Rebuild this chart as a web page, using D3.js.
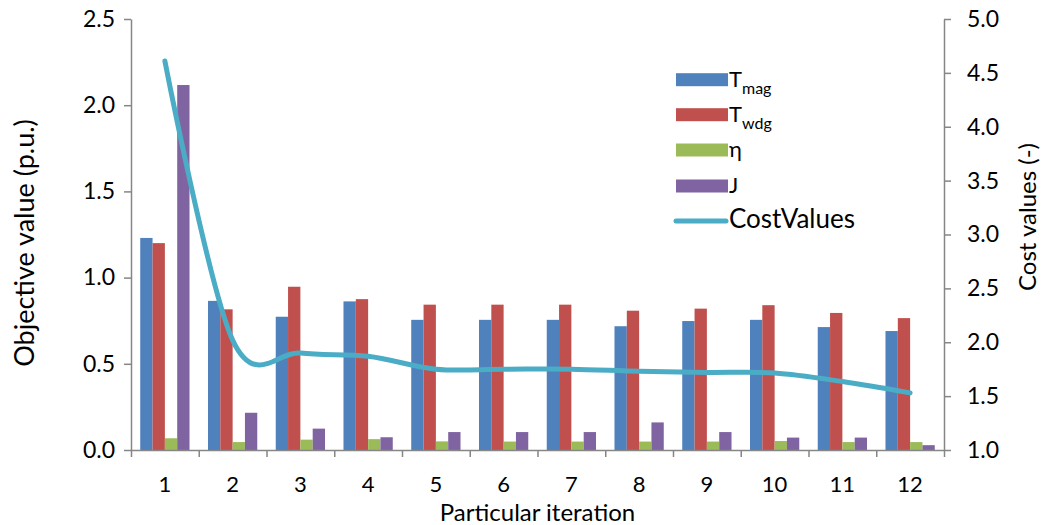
<!DOCTYPE html>
<html>
<head>
<meta charset="utf-8">
<script src="https://cdn.jsdelivr.net/npm/d3@7"></script>
<style>
  html, body { margin: 0; padding: 0; background: #fff; }
  svg { display: block; }
  text { font-family: Lato, "Open Sans", sans-serif; fill: #000; }
</style>
</head>
<body>
<svg id="chart" width="1049" height="525"></svg>
<script>
// ---- data ----
const categories = ["1","2","3","4","5","6","7","8","9","10","11","12"];
const seriesNames = ["Tmag","Twdg","eta","J"];
const Tmag = [1.23, 0.865, 0.773, 0.862, 0.755, 0.755, 0.755, 0.718, 0.748, 0.755, 0.713, 0.69];
const Twdg = [1.20, 0.816, 0.947, 0.875, 0.843, 0.843, 0.843, 0.808, 0.82, 0.84, 0.795, 0.765];
const eta  = [0.068, 0.046, 0.06, 0.063, 0.05, 0.049, 0.049, 0.049, 0.049, 0.052, 0.046, 0.046];
const J    = [2.117, 0.216, 0.124, 0.074, 0.104, 0.104, 0.104, 0.16, 0.104, 0.072, 0.072, 0.028];
const costValues = [4.61, 2.02, 1.90, 1.87, 1.75, 1.75, 1.75, 1.73, 1.72, 1.715, 1.635, 1.53];
const leftTicks = [0, 0.5, 1.0, 1.5, 2.0, 2.5];
const rightTicks = [1.0, 1.5, 2.0, 2.5, 3.0, 3.5, 4.0, 4.5, 5.0];
const xTitle = "Particular iteration";
const yLeftTitle = "Objective value (p.u.)";
const yRightTitle = "Cost values (-)";

const seriesData = { Tmag, Twdg, eta, J };
const colors = { Tmag: "#4F81BD", Twdg: "#C0504D", eta: "#9BBB59", J: "#8064A2", cost: "#4BACC6" };

// ---- layout ----
const plotLeft = 131, plotRight = 944, plotTop = 19, plotBottom = 450;
const svg = d3.select("#chart");
const axisColor = "#868686";

const x0 = d3.scaleBand().domain(categories).range([plotLeft, plotRight]).padding(0);
const x1 = d3.scaleBand().domain(seriesNames).range([0, x0.bandwidth()]).paddingInner(0).paddingOuter(0.75);
const xb = d3.scaleLinear().domain([0, categories.length]).range([plotLeft, plotRight]);
const yL = d3.scaleLinear().domain([0, 2.5]).range([plotBottom, plotTop]);
const yR = d3.scaleLinear().domain([1.0, 5.0]).range([plotBottom, plotTop]);

// ---- bars ----
const groups = svg.append("g").selectAll("g")
  .data(categories)
  .join("g")
  .attr("transform", d => `translate(${x0(d)},0)`);

groups.selectAll("rect")
  .data((d, i) => seriesNames.map(s => ({ s, v: seriesData[s][i] })))
  .join("rect")
  .attr("x", d => x1(d.s))
  .attr("width", x1.bandwidth())
  .attr("y", d => yL(d.v))
  .attr("height", d => yL(0) - yL(d.v))
  .attr("fill", d => colors[d.s]);

// ---- axes ----
function styleAxis(size) {
  return g => {
    g.select(".domain").attr("stroke", axisColor).attr("stroke-width", 1.5);
    g.selectAll(".tick line").attr("stroke", axisColor).attr("stroke-width", 1.5);
    g.selectAll(".tick text").attr("font-family", "Lato, 'Open Sans', sans-serif").attr("font-size", size).attr("fill", "#000");
  };
}

svg.append("g")
  .attr("transform", `translate(${plotLeft},0)`)
  .call(d3.axisLeft(yL).tickValues(leftTicks).tickFormat(d3.format(".1f")).tickSize(7).tickSizeOuter(0).tickPadding(9))
  .call(styleAxis(23));

svg.append("g")
  .attr("transform", `translate(${plotRight},0)`)
  .call(d3.axisRight(yR).tickValues(rightTicks).tickFormat(d3.format(".1f")).tickSize(7).tickSizeOuter(0).tickPadding(16))
  .call(styleAxis(23));

// x tick marks at category boundaries
svg.append("g")
  .attr("transform", `translate(0,${plotBottom})`)
  .call(d3.axisBottom(xb).tickValues(d3.range(categories.length + 1)).tickFormat("").tickSize(7).tickSizeOuter(0))
  .call(styleAxis(23));

// x category labels
svg.append("g")
  .attr("transform", `translate(0,${plotBottom})`)
  .call(d3.axisBottom(x0).tickSize(0).tickPadding(26))
  .call(g => g.select(".domain").remove())
  .call(styleAxis(22));

// ---- cost line ----
const line = d3.line()
  .x((d, i) => x0(categories[i]) + x0.bandwidth() / 2)
  .y(d => yR(d))
  .curve(d3.curveCatmullRom.alpha(0));

svg.append("path")
  .datum(costValues)
  .attr("d", line)
  .attr("fill", "none")
  .attr("stroke", colors.cost)
  .attr("stroke-width", 5)
  .attr("stroke-linecap", "round")
  .attr("stroke-linejoin", "round");

// ---- titles ----
svg.append("text")
  .attr("x", (plotLeft + plotRight) / 2)
  .attr("y", 521)
  .attr("text-anchor", "middle")
  .attr("font-size", 24)
  .text(xTitle);

svg.append("text")
  .attr("transform", `translate(34,243) rotate(-90)`)
  .attr("text-anchor", "middle")
  .attr("font-size", 27)
  .text(yLeftTitle);

svg.append("text")
  .attr("transform", `translate(1036,217) rotate(-90)`)
  .attr("text-anchor", "middle")
  .attr("font-size", 24)
  .text(yRightTitle);

// ---- legend ----
const legend = svg.append("g");
const swX = 676, swW = 52, swH = 13, txtX = 729;
const legendItems = [
  { key: "Tmag", main: "T", sub: "mag", base: 86.7 },
  { key: "Twdg", main: "T", sub: "wdg", base: 121.7 },
  { key: "eta", main: "η", sub: "", base: 157 },
  { key: "J", main: "J", sub: "", base: 193 }
];
legendItems.forEach(it => {
  legend.append("rect")
    .attr("x", swX).attr("y", it.base - 13.5).attr("width", swW).attr("height", swH)
    .attr("fill", colors[it.key]);
  const t = legend.append("text").attr("x", txtX).attr("y", it.base).attr("font-size", 22);
  t.append("tspan").text(it.main);
  if (it.sub) t.append("tspan").attr("dy", 7.6).attr("font-size", 16).text(it.sub);
});
legend.append("line")
  .attr("x1", 676).attr("x2", 726).attr("y1", 221).attr("y2", 221)
  .attr("stroke", colors.cost).attr("stroke-width", 5).attr("stroke-linecap", "round");
legend.append("text").attr("x", txtX).attr("y", 228.3).attr("font-size", 26).text("CostValues");
</script>
</body>
</html>
